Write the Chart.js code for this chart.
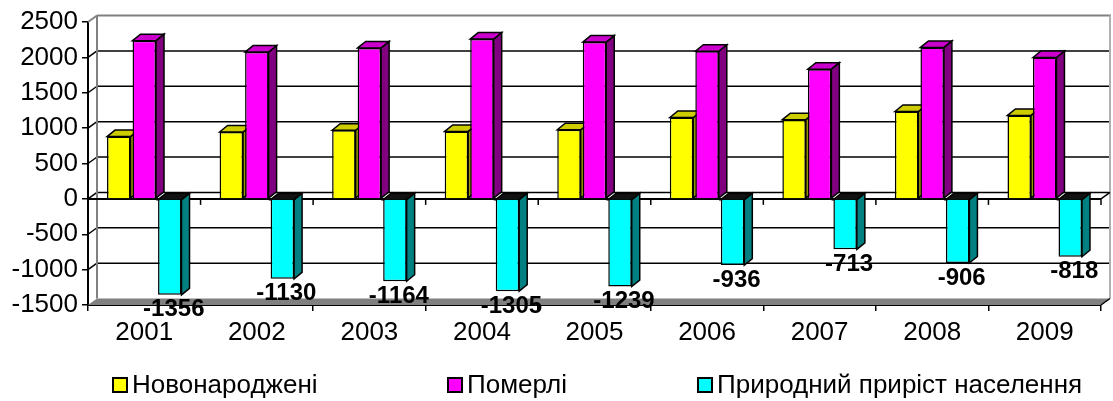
<!DOCTYPE html>
<html>
<head>
<meta charset="utf-8">
<script src="https://cdn.jsdelivr.net/npm/chart.js@4"></script>
<style>
  body { margin: 0; background: #fff; }
  #wrap { width: 1113px; height: 401px; }
</style>
</head>
<body>
<div id="wrap"><canvas id="myChart"></canvas></div>
<script>
const years = ['2001', '2002', '2003', '2004', '2005', '2006', '2007', '2008', '2009'];
const births = [880, 945, 970, 953, 977, 1150, 1120, 1235, 1180];
const deaths = [2236, 2075, 2134, 2258, 2216, 2086, 1833, 2141, 1998];
const increase = [-1356, -1130, -1164, -1305, -1239, -936, -713, -906, -818];
const seriesNames = ['Новонароджені', 'Померлі', 'Природний приріст населення'];

const frontColors = ['#FFFF00', '#FF00FF', '#00FFFF'];
const topColors = ['#CCCC00', '#CC00CC', '#111111'];
const sideColors = ['#999900', '#800080', '#008080'];

// depth offsets for the fake 3D look
const WALL_DX = 9, WALL_DY = -6.5;
const BAR_DX = 8, BAR_DY = -6.5;
const FONT = '"Liberation Sans", Arial, sans-serif';

function poly(ctx, pts, fill, stroke, lw) {
    ctx.beginPath();
    ctx.moveTo(pts[0][0], pts[0][1]);
    for (let i = 1; i < pts.length; i++) ctx.lineTo(pts[i][0], pts[i][1]);
    ctx.closePath();
    if (fill) { ctx.fillStyle = fill; ctx.fill(); }
    if (stroke) { ctx.strokeStyle = stroke; ctx.lineWidth = lw || 1.5; ctx.stroke(); }
}

function line(ctx, x1, y1, x2, y2, color, lw) {
    ctx.beginPath();
    ctx.moveTo(x1, y1);
    ctx.lineTo(x2, y2);
    ctx.strokeStyle = color;
    ctx.lineWidth = lw;
    ctx.stroke();
}

const threeD = {
    id: 'threeD',
    beforeDatasetsDraw(chart) {
        const ctx = chart.ctx;
        const ya = chart.scales.y;
        const xa = chart.scales.x;
        const L = chart.chartArea.left, R = chart.chartArea.right;
        const T = chart.chartArea.top, B = chart.chartArea.bottom;
        ctx.save();

        // back wall gridlines
        ya.ticks.forEach(t => {
            const v = t.value;
            if (v === ya.max || v === ya.min) return;
            const py = ya.getPixelForValue(v);
            line(ctx, L, py, L + WALL_DX, py + WALL_DY, '#000', 1.5);
            line(ctx, L + WALL_DX, py + WALL_DY, R + WALL_DX, py + WALL_DY, '#000', 1.5);
        });

        // wall edges
        line(ctx, L, T, L + WALL_DX, T + WALL_DY, '#808080', 2);
        line(ctx, L + WALL_DX, T + WALL_DY, R + WALL_DX + 1, T + WALL_DY, '#808080', 2);
        line(ctx, L + WALL_DX, T + WALL_DY, L + WALL_DX, B + WALL_DY, '#808080', 2);
        line(ctx, R + WALL_DX, T + WALL_DY, R + WALL_DX, B + WALL_DY, '#b0b0b0', 2);

        // floor
        poly(ctx, [[L, B], [R, B], [R + WALL_DX, B + WALL_DY], [L + WALL_DX, B + WALL_DY]], '#808080', null);
        line(ctx, R, B, R + WALL_DX, B + WALL_DY, '#000', 1.5);

        // zero line with its ticks
        const y0 = ya.getPixelForValue(0);
        line(ctx, L, y0, R, y0, '#000', 2);
        line(ctx, R, y0, R + WALL_DX, y0 + WALL_DY, '#000', 1.5);
        const n = years.length;
        const cw = (xa.right - xa.left) / n;
        for (let i = 0; i <= n; i++) {
            const bx = xa.left + i * cw;
            line(ctx, bx, y0, bx, y0 + 6, '#000', 1.5);
        }

        // side and top faces of the bars
        chart.data.datasets.forEach((ds, di) => {
            const meta = chart.getDatasetMeta(di);
            meta.data.forEach(bar => {
                const w = bar.width;
                const l = bar.x - w / 2, r = bar.x + w / 2;
                const top = Math.min(bar.y, bar.base), bot = Math.max(bar.y, bar.base);
                poly(ctx, [[r, top], [r + BAR_DX, top + BAR_DY], [r + BAR_DX, bot + BAR_DY], [r, bot]], sideColors[di], '#000', 1.5);
                poly(ctx, [[l, top], [l + BAR_DX, top + BAR_DY], [r + BAR_DX, top + BAR_DY], [r, top]], topColors[di], '#000', 1.5);
            });
        });
        ctx.restore();
    },
    afterDatasetsDraw(chart) {
        const ctx = chart.ctx;
        ctx.save();
        // value labels under the natural increase bars
        const meta = chart.getDatasetMeta(2);
        ctx.font = 'bold 24px ' + FONT;
        ctx.fillStyle = '#000';
        ctx.textAlign = 'center';
        ctx.textBaseline = 'middle';
        meta.data.forEach((bar, i) => {
            ctx.fillText(String(increase[i]), bar.x + 4, bar.y + 15);
        });
        ctx.restore();
    },
    afterDraw(chart) {
        // legend row at the bottom
        const ctx = chart.ctx;
        ctx.save();
        ctx.font = '26px ' + FONT;
        ctx.textBaseline = 'middle';
        ctx.textAlign = 'left';
        const boxX = [112, 447, 697];
        const cy = 385;
        seriesNames.forEach((name, i) => {
            const x = boxX[i];
            ctx.fillStyle = frontColors[i];
            ctx.fillRect(x + 1, cy - 7, 14, 14);
            ctx.strokeStyle = '#000';
            ctx.lineWidth = 2;
            ctx.strokeRect(x + 1, cy - 7, 14, 14);
            ctx.fillStyle = '#000';
            ctx.fillText(name, x + 20, cy + 1);
        });
        ctx.restore();
    }
};

const ctx = document.getElementById('myChart').getContext('2d');
const chart = new Chart(ctx, {
    type: 'bar',
    data: {
        labels: years,
        datasets: [
            { label: seriesNames[0], data: births, backgroundColor: frontColors[0] },
            { label: seriesNames[1], data: deaths, backgroundColor: frontColors[1] },
            { label: seriesNames[2], data: increase, backgroundColor: frontColors[2] }
        ].map(d => Object.assign(d, {
            borderColor: '#000',
            borderWidth: 1.5,
            categoryPercentage: 0.68,
            barPercentage: 0.92
        }))
    },
    options: {
        responsive: true,
        maintainAspectRatio: false,
        animation: false,
        layout: { padding: { left: 0, right: 12, top: 22, bottom: 0 } },
        plugins: {
            legend: { display: false },
            tooltip: { enabled: false }
        },
        scales: {
            x: {
                grid: { drawOnChartArea: false, offset: true, tickLength: 6, color: '#000', lineWidth: 1.5 },
                border: { color: '#000', width: 2 },
                ticks: { color: '#000', padding: 6, font: { family: FONT, size: 26 } },
                afterFit: s => { s.height = 96; }
            },
            y: {
                min: -1500,
                max: 2500,
                grid: { drawOnChartArea: false, tickLength: 6, color: '#000', lineWidth: 1.5 },
                border: { color: '#000', width: 2 },
                ticks: {
                    stepSize: 500,
                    color: '#000',
                    padding: 4,
                    font: { family: FONT, size: 26 },
                    callback: v => String(v)
                },
                afterFit: s => { s.width = 88; }
            }
        }
    },
    plugins: [threeD]
});
</script>
</body>
</html>
